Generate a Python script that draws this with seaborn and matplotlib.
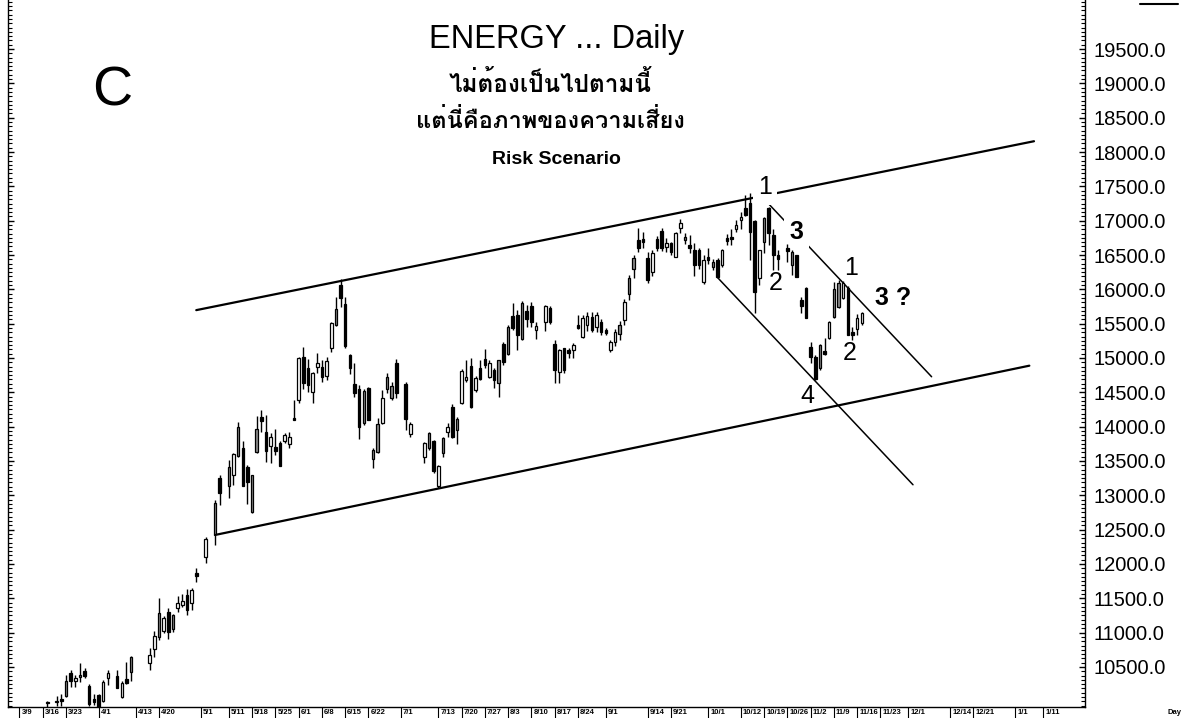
import numpy as np
import pandas as pd
import matplotlib
matplotlib.use("Agg")
import matplotlib.pyplot as plt
import matplotlib.transforms as mtransforms
from matplotlib.lines import Line2D
from matplotlib.ticker import MultipleLocator, FixedLocator
from matplotlib import font_manager
from matplotlib.ft2font import FT2Font
import seaborn as sns

# ---- data -------------------------------------------------------------
axis_start = "2009-03-09"            # first weekday slot on the x axis
first_day, last_day = "2009-03-17", "2009-11-17"
no_trade = ["2009-03-18", "2009-04-06", "2009-04-13", "2009-04-14", "2009-04-15",
            "2009-05-01", "2009-05-05", "2009-05-08", "2009-07-01", "2009-07-06",
            "2009-07-07", "2009-08-12", "2009-10-23"]

opens = [9990, 9990, 10040,
         10080, 10410, 10295, 10355, 10440,
         10220, 10030, 10090, 10010, 10345,
         10370, 10065, 10325, 10430,
         10560, 10760,
         10940, 11025, 11300, 11060, 11360,
         11400, 11545, 11430, 11870,
         12100, 12430, 13250,
         13140, 13300, 13575, 13690, 13410,
         12760, 13630, 14140, 13920, 13720,
         13705, 13760, 13790, 13750, 14125,
         14390, 15015, 14855, 14505, 14870,
         14870, 14740, 15145, 15480, 16060,
         15785, 15045, 14620, 14550, 14055,
         14565, 13530, 13630, 14055, 14550,
         14590, 14925, 14620, 13895,
         13560, 13690, 13790,
         13140, 13615, 13925, 14285, 13950,
         14345, 14680, 14880, 14535, 14855,
         14985, 14725, 14825, 14640, 15205,
         15060, 15610, 15625, 15275, 15685,
         15755, 15410, 15525, 15730,
         15205, 14795, 15145, 15115, 15115,
         15480, 15305, 15480, 15595, 15450,
         15525, 15410, 15120, 15235, 15350,
         15555, 15930, 16295, 16720, 16735,
         16455, 16250, 16735, 16850, 16615,
         16675, 16470, 16895, 16760, 16645,
         16575, 16575, 16105, 16470, 16400,
         16430, 16355, 16745, 16760, 16880,
         17010, 17185, 17255, 16995, 16165,
         16690, 17185, 16790, 16500,
         16600, 16545, 16500, 15845, 16020,
         15160, 15015, 14855, 15100, 15290,
         15600, 15745, 15875, 16020, 15380,
         15420, 15510]

highs = [10010, 10080, 10105,
         10380, 10455, 10380, 10560, 10485,
         10250, 10105, 10100, 10310, 10455,
         10455, 10290, 10570, 10660,
         10775, 11025,
         11505, 11240, 11360, 11270, 11535,
         11570, 11635, 11650, 11940,
         12390, 12930, 13295,
         13515, 13615, 14070, 13790, 13440,
         13300, 14155, 14245, 14170, 13905,
         13965, 13790, 13905, 13920, 14390,
         15015, 15160, 14985, 14795, 15070,
         14970, 15015, 15525, 15890, 16150,
         15890, 15060, 14925, 14610, 14550,
         14580, 13690, 14125, 14535, 14780,
         14650, 14985, 14650, 14070,
         13775, 13920, 13800,
         13440, 13850, 14050, 14330, 14140,
         14840, 14970, 15000, 14740, 14970,
         15130, 14970, 14850, 14975, 15230,
         15480, 15800, 15700, 15830, 15770,
         15815, 15525, 15770, 15760,
         15260, 15130, 15150, 15145, 15220,
         15625, 15625, 15670, 15670, 15670,
         15570, 15430, 15260, 15420, 15540,
         15860, 16210, 16500, 16890, 16835,
         16545, 16575, 16775, 16890, 16745,
         16690, 16835, 17025, 16820, 16790,
         16675, 16600, 16500, 16600, 16440,
         16460, 16590, 16805, 16880, 17010,
         17125, 17375, 17405, 17010, 16575,
         17055, 17200, 16880, 16570,
         16660, 16570, 16500, 15890, 16035,
         15230, 15045, 15205, 15290, 15540,
         16105, 16135, 16120, 16050, 15450,
         15640, 15670]

lows = [9920, 9930, 9930,
        10060, 10210, 10210, 10280, 10340,
        9930, 9940, 9900, 9990, 10235,
        10190, 10050, 10250, 10290,
        10455, 10645,
        10890, 11000, 10905, 11010, 11300,
        11370, 11255, 11330, 11740,
        12015, 12280, 12860,
        12960, 13150, 13560, 13135, 12875,
        12745, 13615, 13920, 13485, 13470,
        13585, 13425, 13760, 13690, 14090,
        14345, 14550, 14505, 14345, 14780,
        14650, 14680, 15090, 15465, 15745,
        15150, 14770, 14430, 13820, 14030,
        14090, 13400, 13615, 14040, 14490,
        14390, 14420, 13950, 13850,
        13470, 13660, 13330,
        13105, 13560, 13850, 13835, 13745,
        14330, 14650, 14270, 14500, 14680,
        14855, 14710, 14560, 14430, 14900,
        15040, 15405, 15115, 15260, 15450,
        15450, 15275, 15390, 15495,
        14635, 14635, 14780, 15000, 15000,
        15420, 15290, 15395, 15380, 15380,
        15335, 15340, 15090, 15170, 15260,
        15480, 15845, 16165, 16545, 16600,
        16090, 16190, 16560, 16560, 16550,
        16500, 16470, 16820, 16660, 16530,
        16195, 16300, 16080, 16370, 16280,
        16170, 16325, 16645, 16645, 16835,
        16880, 17070, 16430, 15655, 16060,
        16530, 16645, 16280, 16280,
        16400, 16210, 16180, 15655, 15580,
        14930, 14680, 14825, 15045, 15270,
        15580, 15730, 15860, 15330, 15260,
        15330, 15480]

closes = [9975, 10010, 10000,
          10300, 10300, 10340, 10380, 10370,
          9960, 9990, 9920, 10280, 10410,
          10195, 10265, 10270, 10640,
          10675, 10950,
          11285, 11215, 11010, 11255, 11430,
          11460, 11330, 11620, 11830,
          12365, 12890, 13035,
          13410, 13600, 13995, 13140, 13195,
          13295, 13965, 14085, 13645, 13850,
          13650, 13430, 13880, 13850, 14100,
          15000, 14635, 14605, 14780, 14925,
          14725, 14955, 15510, 15715, 15875,
          15175, 14855, 14490, 13995, 14520,
          14100, 13660, 14040, 14415, 14725,
          14420, 14490, 14110, 14040,
          13760, 13905, 13355,
          13425, 13835, 13995, 13850, 14110,
          14810, 14725, 14285, 14710, 14695,
          14900, 14925, 14680, 14970, 14940,
          15450, 15435, 15335, 15800, 15565,
          15525, 15465, 15755, 15525,
          14825, 15115, 14825, 15075, 15190,
          15440, 15580, 15610, 15410, 15625,
          15380, 15365, 15230, 15380, 15480,
          15815, 16165, 16455, 16600, 16690,
          16135, 16530, 16600, 16600, 16675,
          16545, 16820, 16965, 16720, 16600,
          16355, 16355, 16425, 16430, 16330,
          16180, 16570, 16705, 16735, 16935,
          17055, 17080, 16835, 15960, 16570,
          17040, 16820, 16500, 16445,
          16560, 16355, 16180, 15755, 15580,
          15015, 14695, 15190, 15060, 15525,
          16005, 16090, 16090, 15335, 15335,
          15580, 15655]

# days the chart paints with a grey body
gray_days = ["2009-03-23", "2009-03-26", "2009-04-10", "2009-04-20", "2009-04-23",
             "2009-05-06", "2009-05-11", "2009-05-13", "2009-05-18", "2009-05-19",
             "2009-06-11", "2009-06-19", "2009-06-23", "2009-06-24", "2009-06-26",
             "2009-06-29", "2009-07-09", "2009-07-14", "2009-07-17", "2009-07-30",
             "2009-08-03", "2009-08-06", "2009-09-04", "2009-09-08", "2009-09-09",
             "2009-09-24", "2009-10-02", "2009-10-19", "2009-10-27", "2009-11-04",
             "2009-11-09", "2009-11-10"]

tick_dates = ["2009-03-09", "2009-03-16", "2009-03-23", "2009-04-01", "2009-04-13",
              "2009-04-20", "2009-05-01", "2009-05-11", "2009-05-18", "2009-05-25",
              "2009-06-01", "2009-06-08", "2009-06-15", "2009-06-22", "2009-07-01",
              "2009-07-13", "2009-07-20", "2009-07-27", "2009-08-03", "2009-08-10",
              "2009-08-17", "2009-08-24", "2009-09-01", "2009-09-14", "2009-09-21",
              "2009-10-01", "2009-10-12", "2009-10-19", "2009-10-26", "2009-11-02",
              "2009-11-09", "2009-11-16", "2009-11-23", "2009-12-01", "2009-12-14",
              "2009-12-21", "2010-01-01", "2010-01-11"]

# hand-drawn trend lines: (start date, end date), (start value, end value)
upper_channel = (["2009-04-30", "2010-01-07"], [15697, 18157])
lower_channel = (["2009-05-06", "2010-01-06"], [12422, 14888])
fall_upper = (["2009-10-19", "2009-12-08"], [17316, 14727])
fall_lower = (["2009-10-05", "2009-12-02"], [16172, 13154])

y_ticks = list(range(10500, 20000, 500))

# ---- helpers ------------------------------------------------------------
def slot(dates):
    d = pd.to_datetime(pd.Series(dates)).values.astype("datetime64[D]")
    return np.busday_count(np.datetime64(axis_start), d)


def thai_family():
    found = []
    for f in font_manager.fontManager.ttflist:
        try:
            cmap = FT2Font(f.fname).get_charmap()
        except Exception:
            continue
        if 0x0E44 in cmap and 0x0E49 in cmap:
            found.append(f.name)
    if not found:
        return "DejaVu Sans"
    liked = ["Tahoma", "Waree", "Loma", "Garuda", "Umpush", "Sawasdee",
             "Noto Sans Thai Looped", "Noto Serif Thai"]
    for name in liked:
        if name in found:
            return name
    found = sorted(set(found), key=lambda n: ("Looped" not in n, "Thai" not in n, n))
    return found[0]


sns.set_style("white")
plt.rcParams["font.family"] = ["Liberation Sans", "DejaVu Sans"]
plt.rcParams["text.color"] = "black"
plt.rcParams["xtick.color"] = "black"
plt.rcParams["ytick.color"] = "black"
thai = thai_family()

days = pd.bdate_range(first_day, last_day)
days = days[~days.isin(pd.to_datetime(no_trade))]
df = pd.DataFrame({"date": days, "open": opens, "high": highs,
                   "low": lows, "close": closes})
df["x"] = slot(df["date"])
df["gray"] = df["date"].isin(pd.to_datetime(gray_days))

fig = plt.figure(figsize=(11.92, 7.18), dpi=100)
ax = fig.add_axes([8 / 1192, 1 - 707 / 718, 1077 / 1192, 707 / 718])

# trend lines
lines = []
for name, (dts, vals) in {"up": upper_channel, "low": lower_channel,
                          "fu": fall_upper, "fl": fall_lower}.items():
    lines.append(pd.DataFrame({"x": slot(dts), "y": vals, "line": name}))
lines = pd.concat(lines, ignore_index=True)
main = lines[lines["line"].isin(["up", "low"])]
fall = lines[lines["line"].isin(["fu", "fl"])]
sns.lineplot(data=main, x="x", y="y", units="line", estimator=None,
             color="black", lw=1.6, ax=ax, zorder=2, legend=False)
sns.lineplot(data=fall, x="x", y="y", units="line", estimator=None,
             color="black", lw=1.1, ax=ax, zorder=2, legend=False)

# candles
ax.vlines(df["x"], df["low"], df["high"], color="black", lw=1.0, zorder=4)
bottom = np.minimum(df["open"], df["close"])
height = np.maximum(np.abs(df["close"] - df["open"]), 14)
face = np.where(df["gray"], "#8c8c8c",
                np.where(df["close"] >= df["open"], "white", "black"))
ax.bar(df["x"], height, bottom=bottom, width=0.55, color=face,
       edgecolor="black", linewidth=0.9, zorder=5)

# wave labels
wave = dict(ha="center", va="center", fontsize=18, color="black", zorder=3)
box = dict(facecolor="white", edgecolor="none", pad=4)
ax.text(160.2, 17490, "1", bbox=box, **wave)
ax.text(166.9, 16835, "3", fontweight="bold", bbox=box, **wave)
ax.text(162.6, 16092, "2", **wave)
ax.text(178.7, 16311, "1", **wave)
ax.text(187.7, 15874, "3 ?", fontweight="bold", **wave)
ax.text(178.3, 15073, "2", **wave)
ax.text(169.4, 14446, "4", **wave)

# axes
ax.set_xlim(-2.45, 228.96)
ax.set_ylim(9917, 20214)
ax.set_xlabel("")
ax.set_ylabel("")
for s in ["left", "right", "bottom"]:
    ax.spines[s].set_visible(True)
    ax.spines[s].set_color("black")
    ax.spines[s].set_linewidth(1.0)
ax.spines["top"].set_visible(False)

ax.yaxis.set_major_locator(FixedLocator(y_ticks))
ax.yaxis.set_minor_locator(MultipleLocator(62.5))
ax.set_yticklabels([f"{v:.1f}" for v in y_ticks])
ax.tick_params(axis="y", which="both", left=True, right=True, labelleft=False,
               labelright=True, direction="in", color="black")
ax.tick_params(axis="y", which="major", length=4, width=1, labelsize=14.5, pad=6)
ax.tick_params(axis="y", which="minor", length=3, width=0.8)

ax.set_xticks(slot(tick_dates))
ax.set_xticklabels([f"{pd.Timestamp(d).month}/{pd.Timestamp(d).day}" for d in tick_dates],
                   fontsize=5.5, fontweight="bold", ha="left")
ax.tick_params(axis="x", which="major", bottom=True, direction="out", length=8,
               width=0.8, pad=-6.3, color="black")
shift = mtransforms.ScaledTranslation(2 / 100, 0, fig.dpi_scale_trans)
for lab in ax.get_xticklabels():
    lab.set_transform(lab.get_transform() + shift)

# header texts
fig.text(557 / 1192, 1 - 48 / 718, "ENERGY ... Daily", ha="center", va="baseline",
         fontsize=23.5)
fig.text(112 / 1192, 1 - 105 / 718, "C", ha="center", va="baseline", fontsize=40)
fig.text(550 / 1192, 1 - 92 / 718, "ไม่ต้องเป็นไปตามนี้", ha="center", va="baseline",
         fontsize=17.5, fontweight="bold", family=[thai, "DejaVu Sans"])
fig.text(550 / 1192, 1 - 128 / 718, "แต่นี่คือภาพของความเสี่ยง", ha="center",
         va="baseline", fontsize=17, fontweight="bold", family=[thai, "DejaVu Sans"])
fig.text(556 / 1192, 1 - 164 / 718, "Risk Scenario", ha="center", va="baseline",
         fontsize=14, fontweight="bold")
fig.text(1175 / 1192, 1 - 713 / 718, "Day", ha="center", va="center",
         fontsize=5.5, fontweight="bold")
fig.add_artist(Line2D([1140 / 1192, 1178 / 1192], [1 - 4 / 718, 1 - 4 / 718],
                      color="black", lw=1.5))

fig.savefig("out.png", dpi=100)
